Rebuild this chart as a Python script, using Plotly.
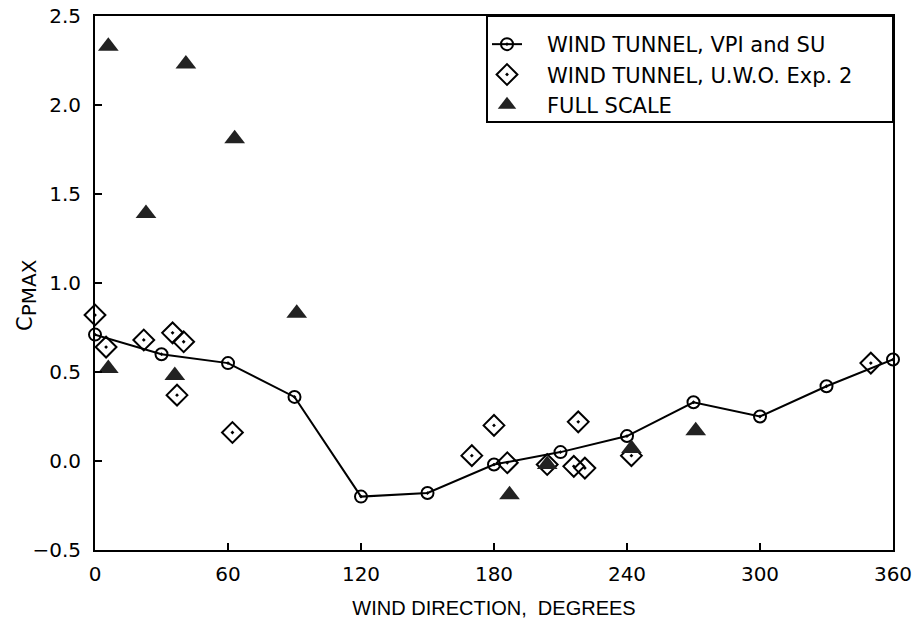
import plotly.graph_objects as go

# VPI and SU wind tunnel (connected circles)
vpi_dir = [0, 30, 60, 90, 120, 150, 180, 210, 240, 270, 300, 330, 360]
vpi_cp = [0.71, 0.60, 0.55, 0.36, -0.20, -0.18, -0.02, 0.05, 0.14, 0.33, 0.25, 0.42, 0.57]

# U.W.O. Exp. 2 wind tunnel (open diamonds)
uwo_dir = [0, 5, 22, 35, 40, 37, 62, 170, 180, 186, 204, 216, 221, 218, 242, 350]
uwo_cp = [0.82, 0.64, 0.68, 0.72, 0.67, 0.37, 0.16, 0.03, 0.20, -0.01, -0.02, -0.03, -0.04, 0.22, 0.03, 0.55]

# Full scale (filled triangles)
fs_dir = [6, 23, 41, 63, 91, 6, 36, 187, 204, 242, 271]
fs_cp = [2.33, 1.39, 2.23, 1.81, 0.83, 0.52, 0.48, -0.19, -0.02, 0.07, 0.17]

series_names = ["WIND TUNNEL, VPI and SU", "WIND TUNNEL, U.W.O. Exp. 2", "FULL SCALE"]

x_ticks = [0, 60, 120, 180, 240, 300, 360]
x_tick_labels = ["0", "60", "120", "180", "240", "300", "360"]
y_ticks = [-0.5, 0.0, 0.5, 1.0, 1.5, 2.0, 2.5]
y_tick_labels = ["\u22120.5", "0.0", "0.5", "1.0", "1.5", "2.0", "2.5"]

FONT = "DejaVu Sans"
TFONT = "Liberation Sans"

W, H = 915, 626
ML, MR, MT, MB = 95, 22, 16, 76
PW, PH = W - ML - MR, H - MT - MB


def px_x(p):
    return (p - ML) / PW


def px_y(p):
    return (H - MB - p) / PH


PAD = "\u00a0\u00a0\u00a0"

fig = go.Figure()
fig.add_trace(go.Scatter(
    x=vpi_dir, y=vpi_cp, mode="lines+markers", name=PAD + series_names[0],
    line=dict(color="black", width=2),
    marker=dict(symbol="circle-open-dot", size=12, color="black", line=dict(width=2)),
    cliponaxis=False,
))
fig.add_trace(go.Scatter(
    x=uwo_dir, y=uwo_cp, mode="markers", name=PAD + series_names[1],
    marker=dict(symbol="diamond-open-dot", size=16, color="black", line=dict(width=2)),
    cliponaxis=False,
))
fig.add_trace(go.Scatter(
    x=fs_dir, y=fs_cp, mode="markers", name=PAD + series_names[2],
    marker=dict(symbol="triangle-up", size=18, color="#222222", line=dict(width=0)),
    cliponaxis=False,
))

# legend frame
fig.add_shape(type="rect", xref="paper", yref="paper",
              x0=px_x(487), x1=1, y0=px_y(122), y1=1,
              line=dict(color="black", width=2), fillcolor="rgba(0,0,0,0)", layer="above")

fig.add_annotation(
    xref="paper", yref="paper", x=px_x(27), y=px_y(295),
    xanchor="center", yanchor="middle", textangle=-90, showarrow=False,
    text="C<sub><span style='font-size:20px'>PMAX</span></sub>",
    font=dict(family=FONT, size=21, color="black"),
)

fig.update_layout(
    width=W, height=H,
    margin=dict(l=ML, r=MR, t=MT, b=MB),
    paper_bgcolor="white", plot_bgcolor="white",
    font=dict(family=FONT, size=19, color="black"),
    showlegend=True,
    legend=dict(
        x=px_x(487), y=px_y(24), xanchor="left", yanchor="top",
        bgcolor="rgba(0,0,0,0)", borderwidth=0,
        font=dict(family=FONT, size=21, color="black"),
        tracegroupgap=0, itemwidth=30,
    ),
    xaxis=dict(
        range=[0, 360], tickmode="array", tickvals=x_ticks, ticktext=x_tick_labels,
        ticks="inside", ticklen=7, tickwidth=1.5, tickcolor="black",
        showline=True, linecolor="black", linewidth=2, mirror=True,
        showgrid=False, zeroline=False, automargin=False,
        tickfont=dict(family=FONT, size=20),
        ticklabelstandoff=5,
        title=dict(text="WIND DIRECTION,  DEGREES", font=dict(family=TFONT, size=20), standoff=16),
    ),
    yaxis=dict(
        range=[-0.5, 2.5], tickmode="array", tickvals=y_ticks, ticktext=y_tick_labels,
        ticks="inside", ticklen=7, tickwidth=1.5, tickcolor="black",
        showline=True, linecolor="black", linewidth=2, mirror=True,
        showgrid=False, zeroline=False, automargin=False,
        tickfont=dict(family=FONT, size=20),
        ticklabelstandoff=8,
    ),
)

fig.write_html("out.html")
